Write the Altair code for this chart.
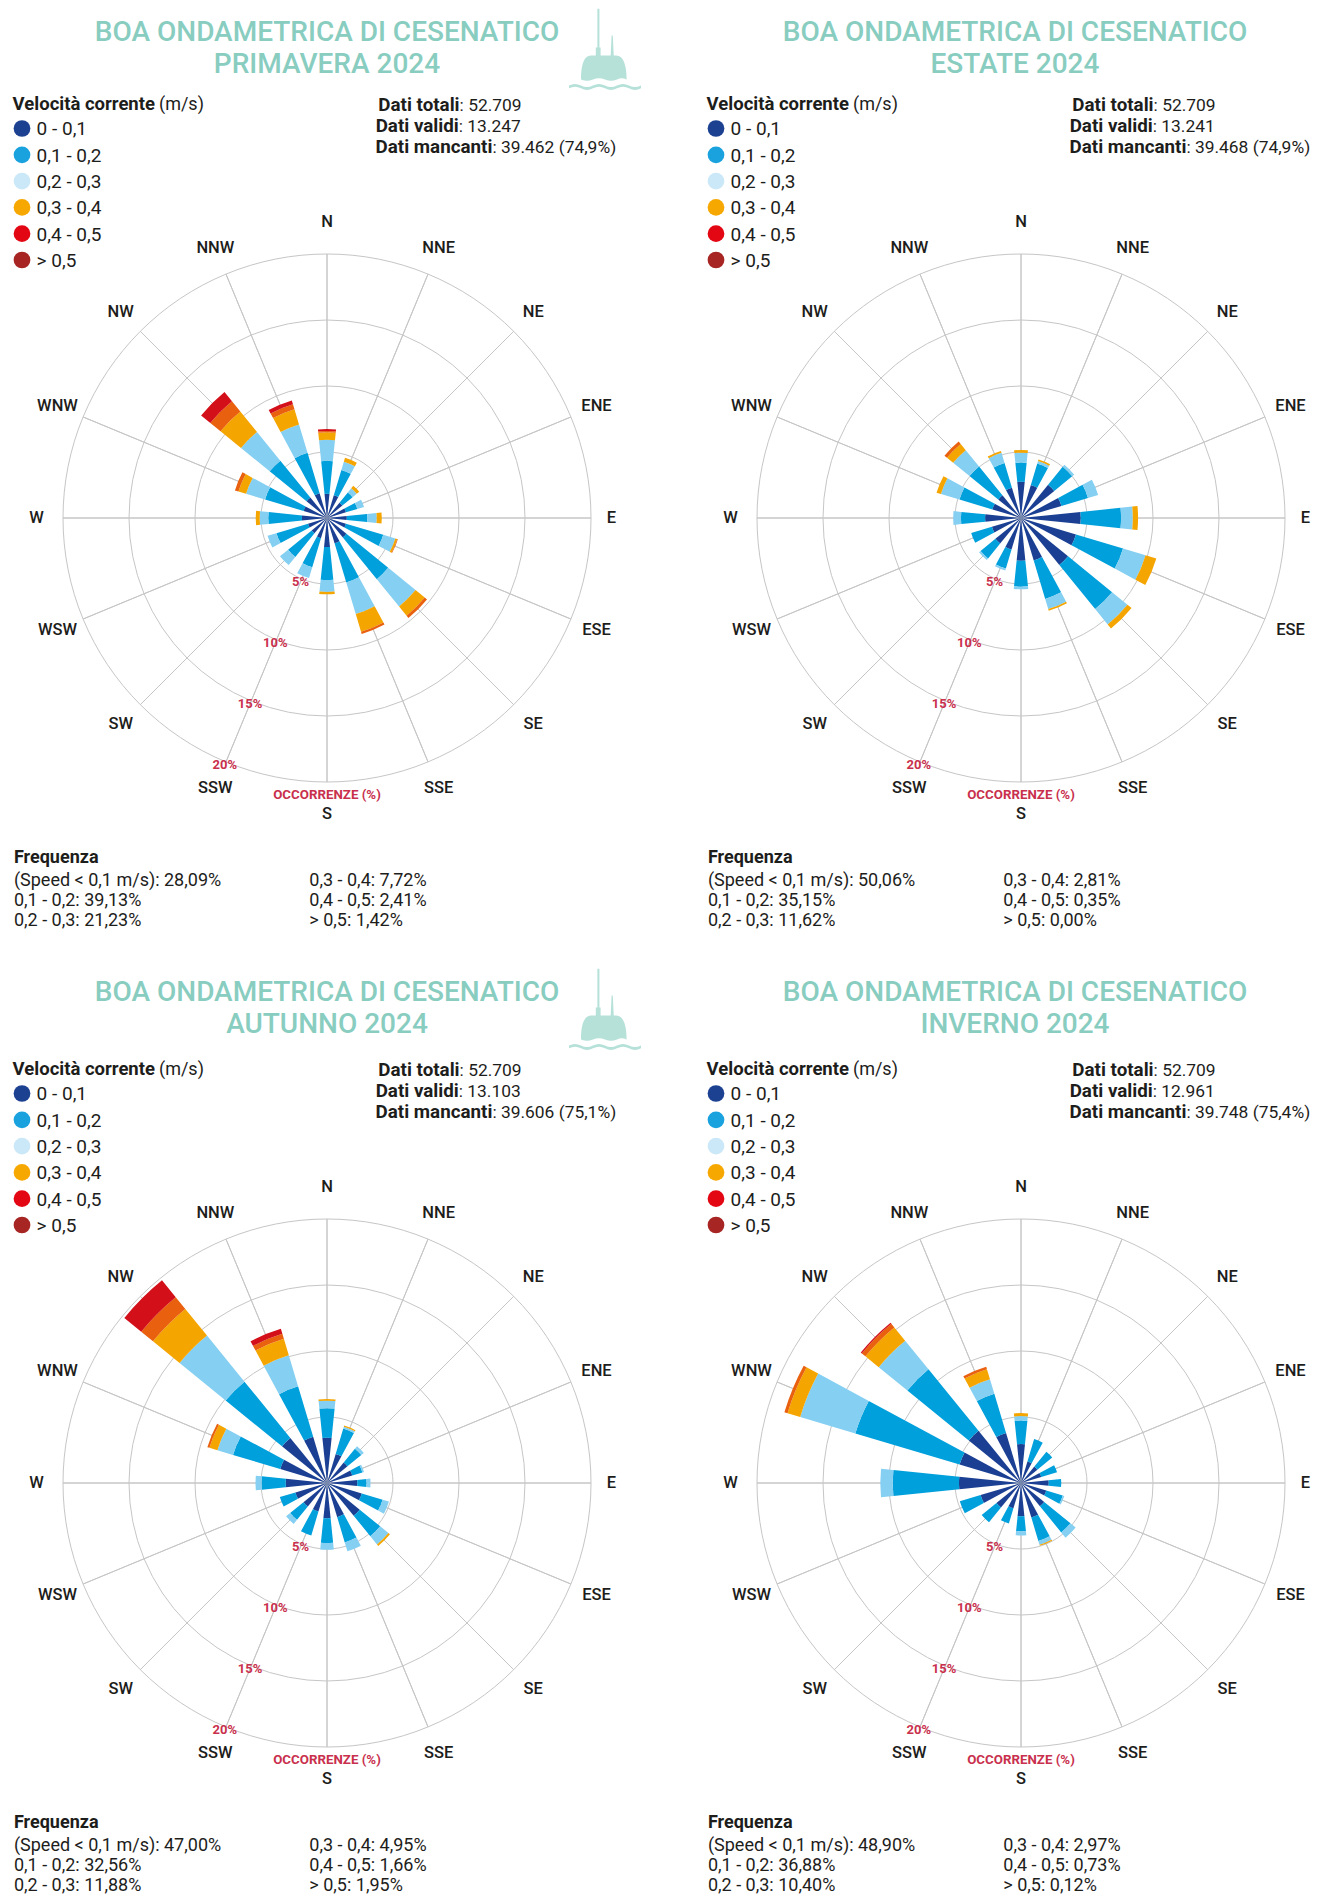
import math
import altair as alt
import pandas as pd

# ---------------------------------------------------------------- constants
FONT = "Roboto"
TEXT_COLOR = "#1d1d1b"
TITLE_COLOR = "#88cdbf"
ICON_COLOR = "#b5e1d9"
GRID_COLOR = "#c6c6c6"
RING_LABEL_COLOR = "#c9304d"

DIRECTIONS = ["N", "NNE", "NE", "ENE", "E", "ESE", "SE", "SSE",
              "S", "SSW", "SW", "WSW", "W", "WNW", "NW", "NNW"]
DIR_ANGLES = [0.0, 22.5, 45.0, 67.5, 90.0, 112.5, 135.0, 157.5,
              180.0, 202.5, 225.0, 247.5, 270.0, 292.5, 315.0, 337.5]
SPEED_CLASSES = ["0 - 0,1", "0,1 - 0,2", "0,2 - 0,3", "0,3 - 0,4", "0,4 - 0,5", "> 0,5"]
BAR_COLORS = ["#1b4093", "#00a0dc", "#84cff2", "#f5a500", "#e9600f", "#d3101a"]
LEGEND_COLORS = ["#1d4191", "#1aa2de", "#cbe8f8", "#f6a800", "#e30613", "#a72624"]
RINGS = [5, 10, 15, 20]
RING_LABELS = ["5%", "10%", "15%", "20%"]
RING_LABEL_ANGLE = 202.5

# ---------------------------------------------------------------- data (% occurrences per direction, N..NNW)
spring_0_01 = [1.83, 1.8, 1.5, 1.5, 1.5, 1.5, 1.9, 2.0, 2.2, 1.6, 1.5, 1.5, 1.9, 1.85, 2.0, 1.95]
spring_01_02 = [2.5, 2.0, 1.0, 0.9, 1.55, 2.95, 4.08, 3.1, 2.5, 2.3, 2.3, 2.5, 2.55, 3.05, 3.6, 3.2]
spring_02_03 = [1.6, 0.65, 0.4, 0.53, 0.72, 0.95, 2.67, 2.5, 0.9, 0.85, 0.8, 0.7, 0.65, 1.5, 2.8, 2.25]
spring_03_04 = [0.57, 0.31, 0.25, 0, 0.38, 0.15, 0.9, 1.4, 0.18, 0, 0, 0, 0.3, 0.6, 2.0, 1.2]
spring_04_05 = [0.1, 0, 0, 0, 0, 0.05, 0.22, 0.17, 0, 0, 0, 0, 0, 0.28, 1.0, 0.4]
spring_05 = [0.14, 0, 0, 0, 0, 0, 0, 0, 0, 0, 0, 0, 0, 0, 0.9, 0.3]

summer_0_01 = [2.75, 2.6, 3.25, 3.2, 4.53, 4.35, 4.6, 3.36, 3.23, 2.5, 2.5, 2.3, 2.72, 2.26, 2.23, 2.4]
summer_01_02 = [1.45, 1.7, 1.75, 2.1, 3.05, 3.72, 4.3, 3.04, 1.97, 1.5, 1.45, 1.64, 1.83, 2.61, 2.8, 1.95]
summer_02_03 = [0.75, 0.2, 0.2, 0.8, 0.89, 1.78, 1.5, 0.8, 0.2, 0.15, 0.15, 0, 0.59, 1.46, 1.6, 0.8]
summer_03_04 = [0.2, 0.13, 0, 0, 0.4, 0.85, 0.4, 0.13, 0, 0, 0, 0, 0, 0.35, 0.6, 0.15]
summer_04_05 = [0, 0, 0, 0, 0, 0, 0, 0, 0, 0, 0, 0, 0, 0, 0.25, 0]
summer_05 = [0, 0, 0, 0, 0, 0, 0, 0, 0, 0, 0, 0, 0, 0, 0, 0]

autumn_0_01 = [3.43, 2.3, 2.0, 2.0, 2.3, 2.75, 3.2, 2.7, 2.67, 2.26, 2.3, 2.5, 3.13, 3.7, 4.4, 3.65]
autumn_01_02 = [2.24, 2.0, 1.35, 0.8, 0.7, 1.65, 2.0, 2.0, 1.88, 1.89, 1.3, 1.23, 1.83, 3.73, 5.5, 4.0]
autumn_02_03 = [0.57, 0.15, 0.25, 0.13, 0.3, 0.5, 0.8, 0.7, 0.51, 0, 0.4, 0, 0.46, 1.24, 4.5, 2.45]
autumn_03_04 = [0.12, 0.09, 0, 0, 0, 0, 0.15, 0, 0, 0, 0, 0, 0, 0.63, 2.6, 1.3]
autumn_04_05 = [0, 0, 0, 0, 0, 0, 0, 0, 0, 0, 0, 0, 0, 0.16, 1.15, 0.4]
autumn_05 = [0, 0, 0, 0, 0, 0, 0, 0, 0, 0, 0, 0, 0, 0, 1.65, 0.4]

winter_0_01 = [2.95, 1.7, 1.6, 1.6, 2.1, 2.0, 2.27, 2.73, 2.52, 2.0, 2.4, 3.2, 4.7, 4.86, 5.1, 3.95]
winter_01_02 = [1.78, 1.77, 1.45, 1.25, 0.95, 1.3, 2.56, 1.85, 1.14, 1.2, 1.44, 1.64, 5.02, 8.24, 6.0, 3.1]
winter_02_03 = [0.34, 0, 0, 0, 0, 0.12, 0.51, 0.3, 0.31, 0, 0, 0, 0.94, 4.36, 2.8, 1.15]
winter_03_04 = [0.23, 0, 0, 0, 0, 0, 0, 0.09, 0, 0, 0, 0, 0, 1.0, 1.3, 0.8]
winter_04_05 = [0, 0, 0, 0, 0, 0, 0, 0, 0, 0, 0, 0, 0, 0.25, 0.35, 0.2]
winter_05 = [0, 0, 0, 0, 0, 0, 0, 0, 0, 0, 0, 0, 0, 0, 0.1, 0]

spring_counts = ["52.709", "13.247", "39.462 (74,9%)"]
summer_counts = ["52.709", "13.241", "39.468 (74,9%)"]
autumn_counts = ["52.709", "13.103", "39.606 (75,1%)"]
winter_counts = ["52.709", "12.961", "39.748 (75,4%)"]

spring_freq = ["28,09%", "39,13%", "21,23%", "7,72%", "2,41%", "1,42%"]
summer_freq = ["50,06%", "35,15%", "11,62%", "2,81%", "0,35%", "0,00%"]
autumn_freq = ["47,00%", "32,56%", "11,88%", "4,95%", "1,66%", "1,95%"]
winter_freq = ["48,90%", "36,88%", "10,40%", "2,97%", "0,73%", "0,12%"]

# ---------------------------------------------------------------- layout
W, H = 609, 930
COL_SPACING, ROW_SPACING = 85, 35
CX, CY = 319, 510
R_OUT = 264
HALF_WIDTH = 5.85          # half angular width of each wedge (deg)
# radial position of the compass labels (in % units of the radial scale), N..NNW
DIR_LABEL_R = [22.45, 22.1, 22.1, 22.1, 21.55, 22.1, 22.1, 22.1,
               22.45, 22.1, 22.1, 22.1, 22.0, 22.1, 22.1, 22.1]

BUOY_PATH = (
    "M -0.19,-0.97 L -0.14,-0.97 L -0.14,0 L -0.11,0 L -0.11,0.22 L -0.23,0.22 L -0.23,0 L -0.19,0 Z "
    "M 0.165,-0.3 L 0.195,-0.3 L 0.22,0.25 L 0.14,0.25 Z "
    "M -0.6,0.8 C -0.6,0.42 -0.52,0.2 -0.35,0.2 L 0.28,0.2 C 0.45,0.2 0.54,0.42 0.54,0.8 "
    "Q 0.42,0.74 0.3,0.8 Q 0.15,0.86 0,0.8 Q -0.15,0.74 -0.3,0.8 Q -0.45,0.86 -0.6,0.8 Z "
    "M -0.9,0.95 Q -0.75,0.87 -0.6,0.95 Q -0.45,1.03 -0.3,0.95 Q -0.15,0.87 0,0.95 Q 0.15,1.03 0.3,0.95 "
    "Q 0.45,0.87 0.6,0.95 Q 0.75,1.03 0.9,0.95 L 0.9,1.02 Q 0.75,1.1 0.6,1.02 Q 0.45,0.94 0.3,1.02 "
    "Q 0.15,1.1 0,1.02 Q -0.15,0.94 -0.3,1.02 Q -0.45,1.1 -0.6,1.02 Q -0.75,0.94 -0.9,1.02 Z"
)

theta_scale = alt.Scale(domain=[0, 360], range=[0, 2 * math.pi])
radius_scale = alt.Scale(type="linear", domain=[0, 20], range=[0, R_OUT])


def txt(s, x, y, size=18, weight="normal", color=TEXT_COLOR, align="left", baseline="alphabetic"):
    return alt.Chart(pd.DataFrame({"t": [s]})).mark_text(
        font=FONT, fontSize=size, fontWeight=weight, color=color, align=align, baseline=baseline
    ).encode(x=alt.value(x), y=alt.value(y), text="t:N")


def panel(season, title_x, title_dy, classes_values, counts, freq, icon):
    rows = []
    for i, d in enumerate(DIRECTIONS):
        cum = 0.0
        for k, cls in enumerate(SPEED_CLASSES):
            v = classes_values[k][i]
            if v <= 0:
                continue
            rows.append({"dir": d, "classe": cls,
                         "t0": DIR_ANGLES[i] - HALF_WIDTH, "t1": DIR_ANGLES[i] + HALF_WIDTH,
                         "r0": cum, "r1": cum + v})
            cum += v
    bars_df = pd.DataFrame(rows)

    rings = alt.Chart(pd.DataFrame({"r": RINGS})).mark_arc(
        filled=False, stroke=GRID_COLOR, strokeWidth=1
    ).encode(
        x=alt.value(CX), y=alt.value(CY),
        theta=alt.value(0), theta2=alt.value(2 * math.pi),
        radius=alt.Radius("r:Q", scale=radius_scale, stack=None), radius2=alt.value(0),
    )

    spokes = alt.Chart(pd.DataFrame({"a": DIR_ANGLES, "r": [RINGS[-1]] * len(DIR_ANGLES)})).mark_arc(
        filled=False, stroke=GRID_COLOR, strokeWidth=1
    ).encode(
        x=alt.value(CX), y=alt.value(CY),
        theta=alt.Theta("a:Q", scale=theta_scale, stack=None), theta2="a:Q",
        radius=alt.Radius("r:Q", scale=radius_scale, stack=None), radius2=alt.value(0),
    )

    bars = alt.Chart(bars_df).mark_arc().encode(
        x=alt.value(CX), y=alt.value(CY),
        theta=alt.Theta("t0:Q", scale=theta_scale, stack=None), theta2="t1:Q",
        radius=alt.Radius("r1:Q", scale=radius_scale, stack=None), radius2="r0:Q",
        color=alt.Color("classe:N", scale=alt.Scale(domain=SPEED_CLASSES, range=BAR_COLORS), legend=None),
    )

    ring_labels = alt.Chart(pd.DataFrame({"r": RINGS, "lab": RING_LABELS,
                                          "a": [RING_LABEL_ANGLE] * len(RINGS)})).mark_text(
        font=FONT, fontSize=13, fontWeight="bold", color=RING_LABEL_COLOR, baseline="middle", align="center",
        radiusOffset=3
    ).encode(
        x=alt.value(CX), y=alt.value(CY),
        theta=alt.Theta("a:Q", scale=theta_scale, stack=None),
        radius=alt.Radius("r:Q", scale=radius_scale, stack=None),
        text="lab:N",
    )

    dir_labels = alt.Chart(pd.DataFrame({"d": DIRECTIONS, "a": DIR_ANGLES, "r": DIR_LABEL_R})).mark_text(
        font=FONT, fontSize=16.5, fontWeight=500, color=TEXT_COLOR, baseline="middle", align="center"
    ).encode(
        x=alt.value(CX), y=alt.value(CY),
        theta=alt.Theta("a:Q", scale=theta_scale, stack=None),
        radius=alt.Radius("r:Q", scale=radius_scale, stack=None),
        text="d:N",
    )

    leg_df = pd.DataFrame({"classe": SPEED_CLASSES})
    leg_y = alt.Y("classe:N", scale=alt.Scale(type="point", domain=SPEED_CLASSES, range=[120.5, 252], padding=0),
                  axis=None)
    leg_dots = alt.Chart(leg_df).mark_point(filled=True, shape="circle", size=280, opacity=1).encode(
        x=alt.value(14), y=leg_y,
        color=alt.Color("classe:N", scale=alt.Scale(domain=SPEED_CLASSES, range=LEGEND_COLORS), legend=None),
    )
    leg_text = alt.Chart(leg_df).mark_text(
        font=FONT, fontSize=19, color=TEXT_COLOR, align="left", baseline="alphabetic", dy=6.8
    ).encode(x=alt.value(28.6), y=leg_y, text="classe:N")

    layers = [
        rings, spokes, bars, ring_labels, dir_labels,
        txt("OCCORRENZE (%)", CX, 787, size=13.3, weight="bold", color=RING_LABEL_COLOR,
            align="center", baseline="middle"),
        txt("BOA ONDAMETRICA DI CESENATICO", title_x, 32.7 + title_dy, size=28, weight=500,
            color=TITLE_COLOR, align="center"),
        txt(season, title_x, 64.7 + title_dy, size=28, weight=500, color=TITLE_COLOR, align="center"),
        txt("Velocità corrente", 147, 102, size=18.5, weight="bold", align="right"),
        txt("(m/s)", 151, 102),
        leg_dots, leg_text,
        txt("Dati totali", 451.6, 102.7, size=18.8, weight="bold", align="right"),
        txt(": " + counts[0], 451.6, 102.7, size=17.4),
        txt("Dati validi", 450.8, 123.7, size=18.8, weight="bold", align="right"),
        txt(": " + counts[1], 450.8, 123.7, size=17.4),
        txt("Dati mancanti", 484.4, 145, size=18.8, weight="bold", align="right"),
        txt(": " + counts[2], 484.4, 145, size=17.4),
        txt("Frequenza", 5.9, 855.3, weight="bold"),
        txt("(Speed < 0,1 m/s): " + freq[0], 5.9, 878),
        txt("0,1 - 0,2: " + freq[1], 5.9, 898),
        txt("0,2 - 0,3: " + freq[2], 5.9, 917.7),
        txt("0,3 - 0,4: " + freq[3], 301.3, 878),
        txt("0,4 - 0,5: " + freq[4], 301.3, 898),
        txt("> 0,5: " + freq[5], 301.3, 917.7),
    ]
    if icon:
        layers.append(
            alt.Chart(pd.DataFrame({"k": [0]})).mark_point(
                shape=BUOY_PATH, size=6400, filled=True, color=ICON_COLOR, opacity=1, strokeWidth=0
            ).encode(x=alt.value(597), y=alt.value(39.5 + title_dy))
        )
    return alt.layer(*layers).properties(width=W, height=H).resolve_scale(color="independent")


p1 = panel("PRIMAVERA 2024", 319, 0,
           [spring_0_01, spring_01_02, spring_02_03, spring_03_04, spring_04_05, spring_05],
           spring_counts, spring_freq, True)
p2 = panel("ESTATE 2024", 313, 0,
           [summer_0_01, summer_01_02, summer_02_03, summer_03_04, summer_04_05, summer_05],
           summer_counts, summer_freq, False)
p3 = panel("AUTUNNO 2024", 319, -5,
           [autumn_0_01, autumn_01_02, autumn_02_03, autumn_03_04, autumn_04_05, autumn_05],
           autumn_counts, autumn_freq, True)
p4 = panel("INVERNO 2024", 313, -5,
           [winter_0_01, winter_01_02, winter_02_03, winter_03_04, winter_04_05, winter_05],
           winter_counts, winter_freq, False)

chart = (
    alt.concat(p1, p2, p3, p4, columns=2, spacing={"row": ROW_SPACING, "column": COL_SPACING},
               bounds="flush")
    .properties(padding=0, background="white")
    .configure(font=FONT)
    .configure_view(strokeWidth=0)
)

chart.save("out.html", embed_options={"renderer": "svg", "actions": False})
